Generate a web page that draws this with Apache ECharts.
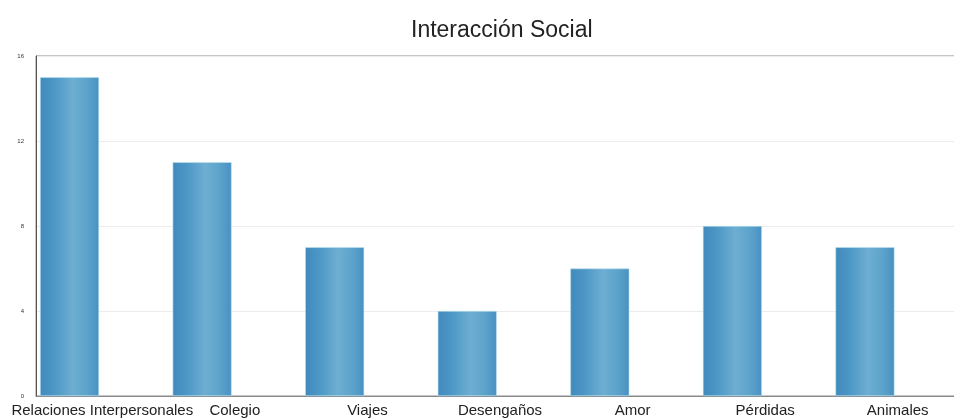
<!DOCTYPE html>
<html>
<head>
<meta charset="utf-8">
<script src="https://cdn.jsdelivr.net/npm/echarts@6/dist/echarts.min.js"></script>
<style>
html, body { margin: 0; padding: 0; background: #fff; overflow: hidden; }
/* plot runs past the right edge of the window, as in the reference */
#main { width: 970px; height: 419px; }
</style>
</head>
<body>
<div id="main"></div>
<script>
var categories = ['Relaciones Interpersonales', 'Colegio', 'Viajes', 'Desengaños', 'Amor', 'Pérdidas', 'Animales'];
var values = [15, 11, 7, 4, 6, 8, 7];
var yTicks = [0, 4, 8, 12, 16];

var chart = echarts.init(document.getElementById('main'));

// bar fill, soft watery blue
var barFill = new echarts.graphic.LinearGradient(0, 0, 1, 0, [
    {offset: 0, color: '#4189bd'},
    {offset: 0.25, color: '#4d98c6'},
    {offset: 0.55, color: '#6eaed2'},
    {offset: 0.8, color: '#5ca3cb'},
    {offset: 1, color: '#4890c2'}
]);

option = {
    animation: false,
    title: {
        text: 'Interacción Social',
        left: 406,
        top: 14,
        textStyle: {
            fontFamily: 'Liberation Sans, Arial, sans-serif',
            fontSize: 23,
            fontWeight: 'normal',
            color: '#222'
        }
    },
    grid: {
        left: 36,
        right: 6,
        top: 56,
        bottom: 23,
        show: true,
        borderColor: '#8a8a8a',
        borderWidth: 1,
        containLabel: false
    },
    xAxis: {
        type: 'category',
        data: categories,
        axisLine: {lineStyle: {color: '#8a8a8a'}},
        axisTick: {show: false},
        axisLabel: {
            interval: 0,
            margin: 7,
            fontFamily: 'Liberation Sans, Arial, sans-serif',
            fontSize: 15,
            color: '#222'
        }
    },
    yAxis: {
        type: 'value',
        min: yTicks[0],
        max: yTicks[yTicks.length - 1],
        interval: 4,
        axisLine: {show: true, lineStyle: {color: '#555'}},
        axisTick: {show: false},
        axisLabel: {
            margin: 12,
            fontFamily: 'Liberation Sans, Arial, sans-serif',
            fontSize: 6,
            color: '#333'
        },
        splitLine: {lineStyle: {color: '#ececec'}}
    },
    series: [
        {
            type: 'bar',
            data: values,
            barWidth: 59,
            barGap: '11%',
            itemStyle: {
                color: barFill,
                borderColor: '#b8e2f0',
                borderWidth: 0.6
            }
        },
        {
            // empty slot so bars sit on the left side of each category
            type: 'bar',
            data: [],
            barWidth: 59
        }
    ]
};
chart.setOption(option, true);
</script>
</body>
</html>
